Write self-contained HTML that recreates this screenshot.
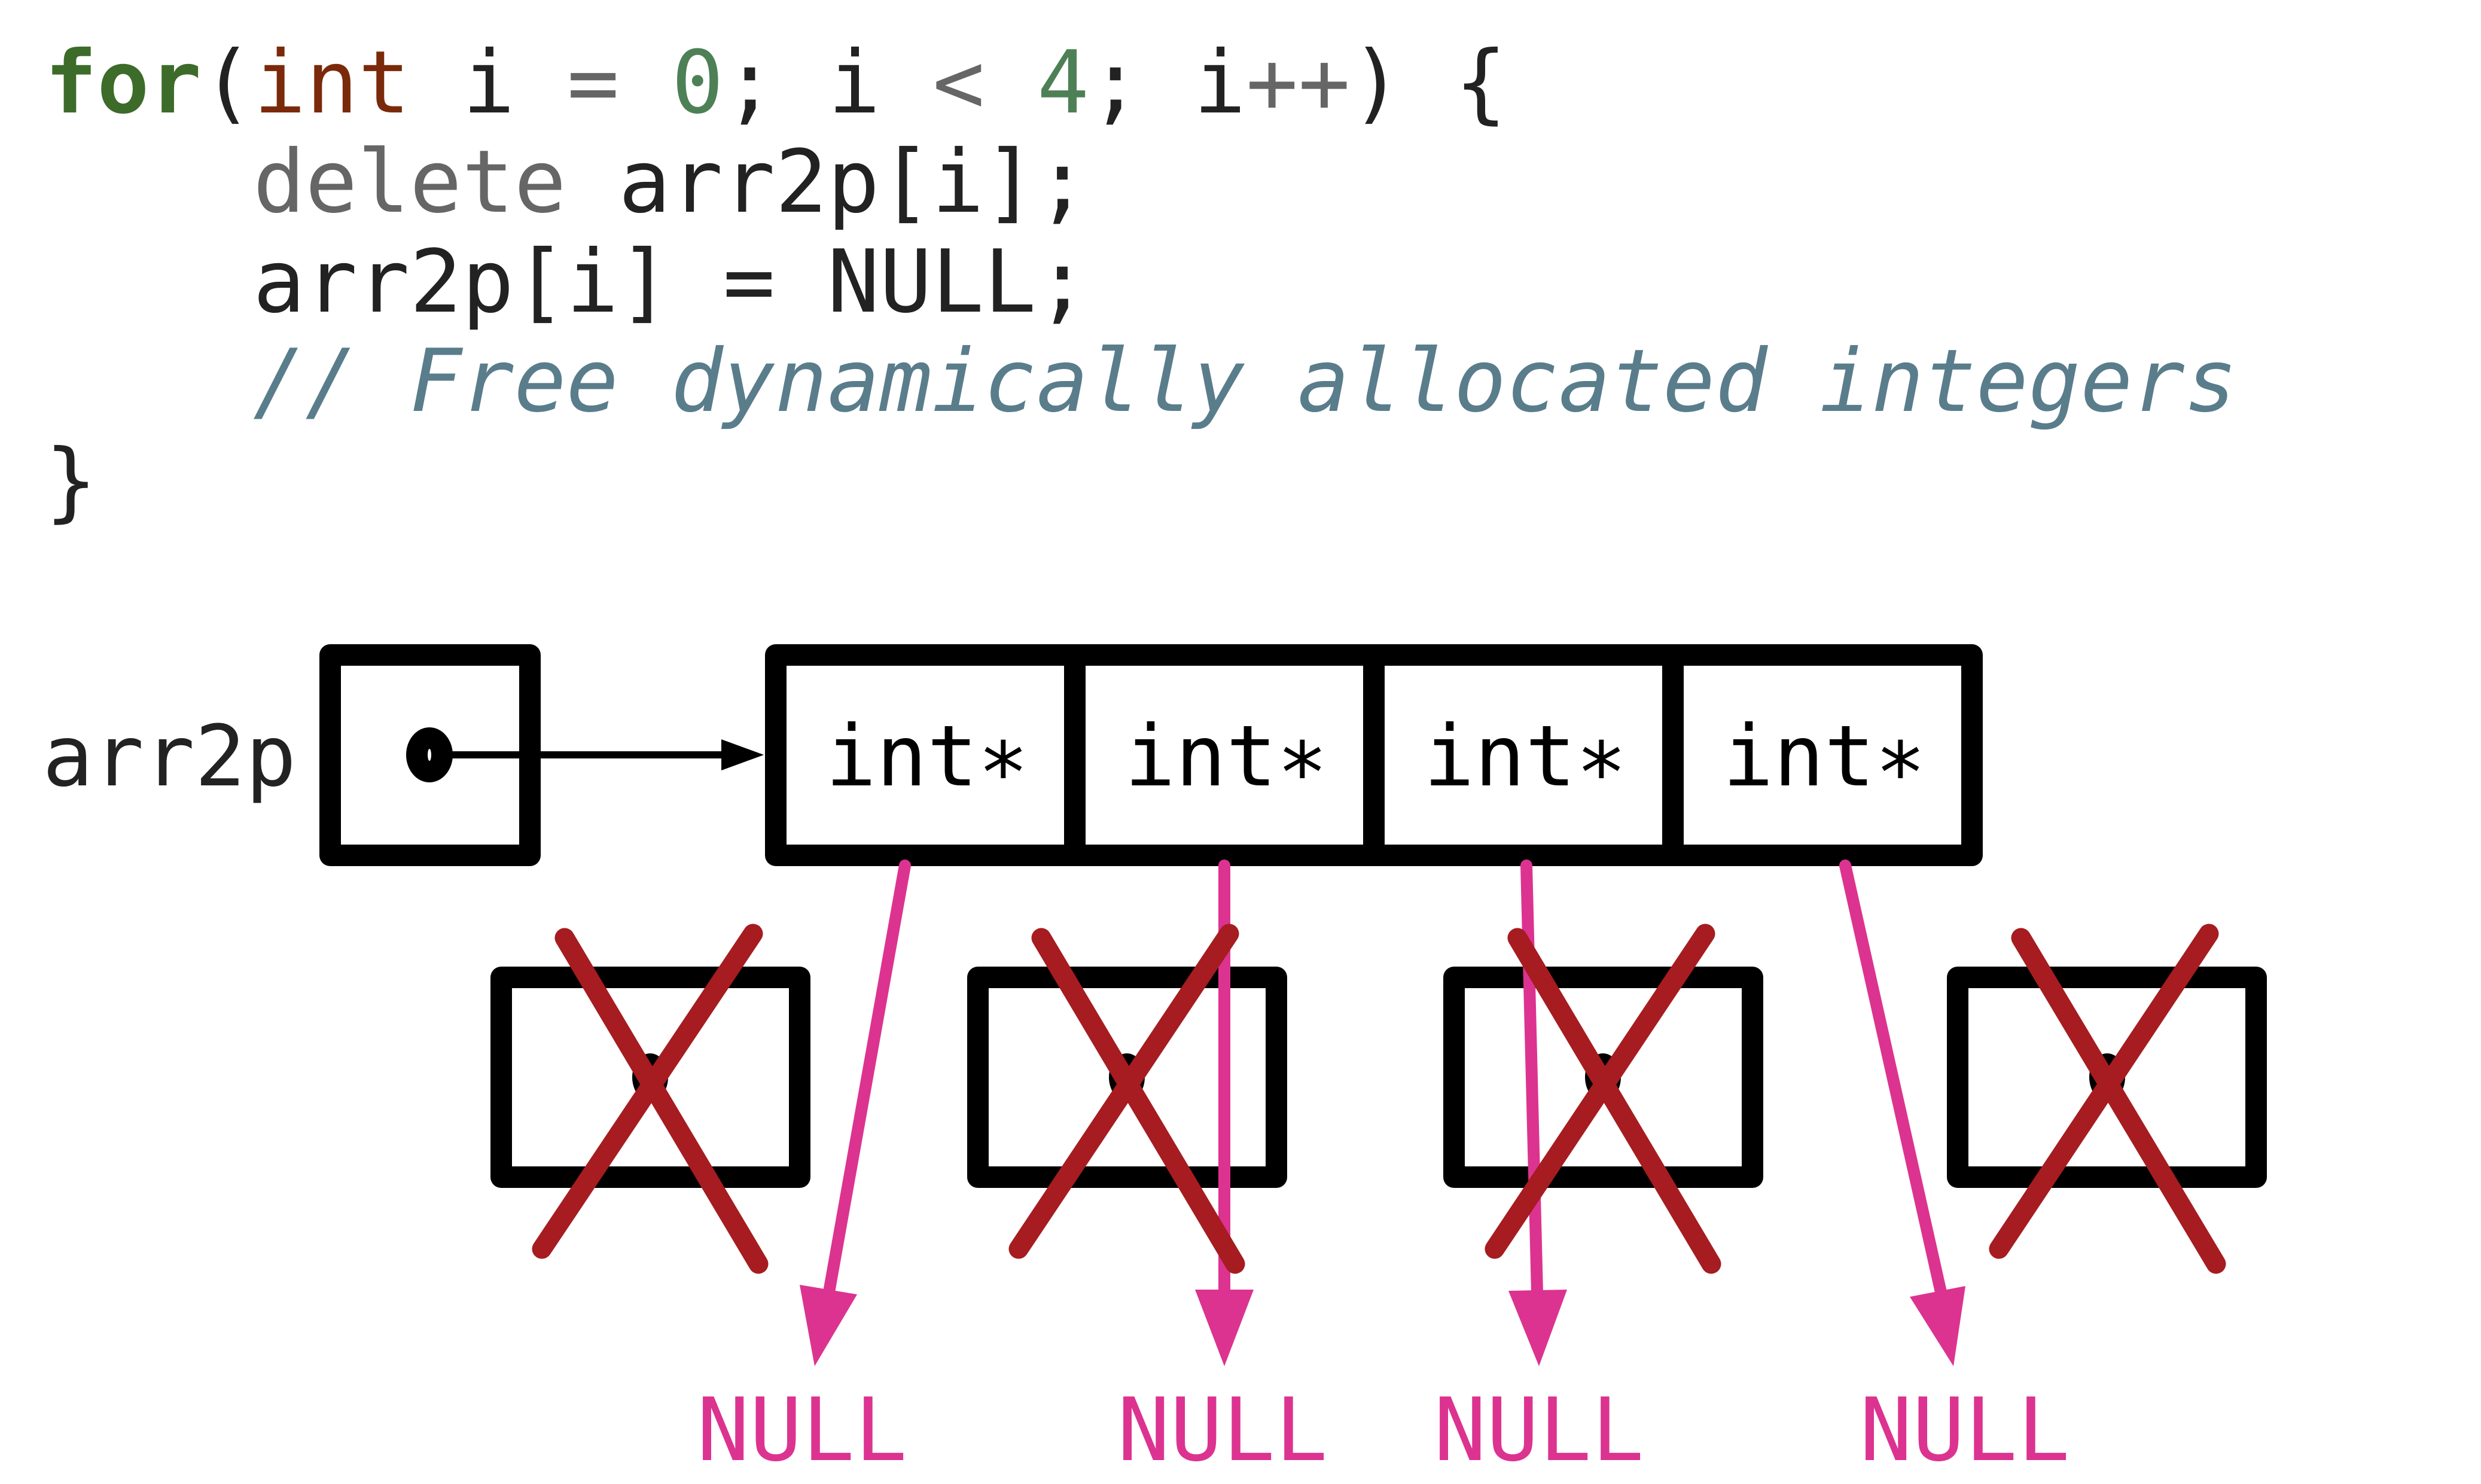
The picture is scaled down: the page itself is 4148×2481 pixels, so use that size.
<!DOCTYPE html>
<html><head><meta charset="utf-8"><style>
html,body{margin:0;padding:0;background:#fff;}
svg{display:block;}
.code{font-family:"DejaVu Sans Mono","Liberation Mono",monospace;font-size:145px;fill:#222;}
.lbl{font-family:"DejaVu Sans Mono","Liberation Mono",monospace;font-size:141px;}
</style></head><body>
<svg width="4148" height="2481" viewBox="0 0 4148 2481" xmlns="http://www.w3.org/2000/svg">
<rect width="4148" height="2481" fill="#fff"/>
<g class="code" xml:space="preserve">
<text x="75" y="188"><tspan fill="#3d6b2a" font-weight="bold">for</tspan>(<tspan fill="#7a2a0a">int</tspan> i <tspan fill="#666">=</tspan> <tspan fill="#4e8056">0</tspan>; i <tspan fill="#666">&lt;</tspan> <tspan fill="#4e8056">4</tspan>; i<tspan fill="#666">++</tspan>) {</text>
<text x="423" y="354"><tspan fill="#666">delete</tspan> arr2p[i];</text>
<text x="423" y="521">arr2p[i] = NULL;</text>
<text x="423" y="687" fill="#5a7d8c" font-style="italic">// Free dynamically allocated integers</text>
<text x="75" y="854">}</text>
</g>
<text class="lbl" x="71" y="1313" fill="#222">arr2p</text>
<rect x="552" y="1095" width="334" height="335" fill="none" stroke="#000" stroke-width="36" stroke-linejoin="round"/>
<ellipse cx="718" cy="1262" rx="39" ry="46" fill="#000"/>
<ellipse cx="718" cy="1262" rx="3" ry="10" fill="#fff"/>
<line x1="740" y1="1262" x2="1210" y2="1262" stroke="#000" stroke-width="12"/>
<polygon points="1206,1236 1277,1262 1206,1288" fill="#000"/>
<rect x="1297" y="1095" width="2000" height="335" fill="none" stroke="#000" stroke-width="36" stroke-linejoin="round"/>
<line x1="1797" y1="1095" x2="1797" y2="1430" stroke="#000" stroke-width="36"/>
<line x1="2297" y1="1095" x2="2297" y2="1430" stroke="#000" stroke-width="36"/>
<line x1="2797" y1="1095" x2="2797" y2="1430" stroke="#000" stroke-width="36"/>
<g class="lbl" fill="#000" text-anchor="middle">
<text x="1550" y="1313">int∗</text><text x="2050" y="1313">int∗</text><text x="2550" y="1313">int∗</text><text x="3050" y="1313">int∗</text>
</g>
<g fill="none" stroke="#000" stroke-width="36" stroke-linejoin="round">
<rect x="838" y="1634" width="499" height="334"/>
<rect x="1635" y="1634" width="499" height="334"/>
<rect x="2431" y="1634" width="499" height="334"/>
<rect x="3273" y="1634" width="499" height="334"/>
</g>
<g fill="#000">
<ellipse cx="1087" cy="1801" rx="30" ry="40"/>
<ellipse cx="1884" cy="1801" rx="30" ry="40"/>
<ellipse cx="2680" cy="1801" rx="30" ry="40"/>
<ellipse cx="3523" cy="1801" rx="30" ry="40"/>
</g>
<g stroke="#dc3390" stroke-width="20" stroke-linecap="round" fill="none">
<line x1="1513" y1="1447" x2="1386" y2="2160"/>
<line x1="2047" y1="1447" x2="2047" y2="2160"/>
<line x1="2552" y1="1447" x2="2570" y2="2160"/>
<line x1="3085" y1="1447" x2="3245" y2="2160"/>
</g>
<g fill="#dc3390">
<polygon points="1337,2148 1433,2164 1362,2284"/>
<polygon points="1998,2156 2096,2156 2047,2284"/>
<polygon points="2522,2158 2620,2156 2573,2284"/>
<polygon points="3193,2168 3286,2150 3266,2284"/>
</g>
<g stroke="#a61c20" stroke-width="33" stroke-linecap="round">
<line x1="944" y1="1568" x2="1268" y2="2113"/><line x1="1259" y1="1561" x2="906" y2="2088"/>
<line x1="1741" y1="1568" x2="2065" y2="2113"/><line x1="2055" y1="1561" x2="1703" y2="2088"/>
<line x1="2537" y1="1568" x2="2861" y2="2113"/><line x1="2851" y1="1561" x2="2499" y2="2088"/>
<line x1="3379" y1="1568" x2="3705" y2="2113"/><line x1="3693" y1="1561" x2="3342" y2="2088"/>
</g>
<g class="lbl" fill="#dc3390" text-anchor="middle" style="font-size:146px">
<text x="1341" y="2441">NULL</text><text x="2044" y="2441">NULL</text><text x="2573" y="2441">NULL</text><text x="3285" y="2441">NULL</text>
</g>
</svg>
</body></html>
